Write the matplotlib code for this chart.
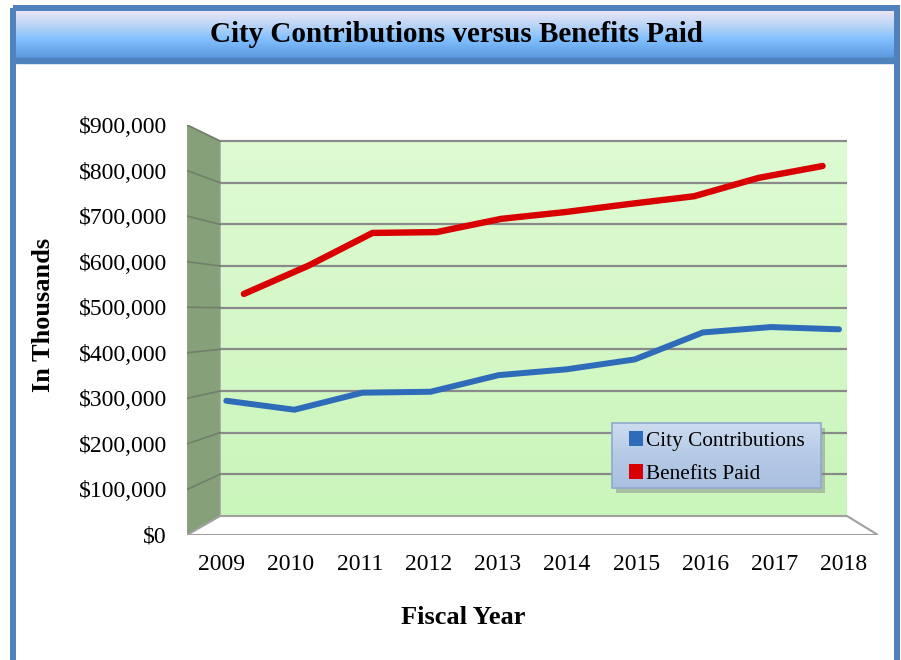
import matplotlib
matplotlib.use("Agg")
import matplotlib.pyplot as plt
import numpy as np
from matplotlib.colors import LinearSegmentedColormap
from matplotlib.patches import Patch, Polygon, Rectangle
from matplotlib.ticker import FuncFormatter
from matplotlib.transforms import Affine2D, IdentityTransform

# datos (dólares)
years = ["2009", "2010", "2011", "2012", "2013", "2014", "2015", "2016", "2017", "2018"]
city_contributions = [292000, 272000, 310000, 312000, 349000, 362000, 384000, 444000, 456000, 451000]
benefits_paid = [532000, 598000, 675000, 677000, 708000, 724000, 743000, 761000, 804000, 832000]
y_ticks = [0, 100000, 200000, 300000, 400000, 500000, 600000, 700000, 800000, 900000]

W, H = 901, 660
# desplazamiento (px) del plano trasero respecto al frontal: izq, der, abajo, arriba
BACK_INSET = (33, -31, 19, -16)
BLUE = "#2e6bb8"
RED = "#d80000"
GRID = "#8a8a8a"

plt.rcParams["font.family"] = ["Liberation Serif", "DejaVu Serif"]

fig = plt.figure(figsize=(W / 100, H / 100), dpi=100)

# fondo: marco azul y banda del título
bg = fig.add_axes([0, 0, 1, 1], zorder=0)
bg.axis("off")

band = LinearSegmentedColormap.from_list(
    "band", [(0.0, "#eee6f5"), (0.35, "#b4d2f7"), (0.62, "#80bfff"), (1.0, "#5b97dc")]
)
bg.imshow(np.linspace(0, 1, 100).reshape(-1, 1), cmap=band, aspect="auto",
          extent=(16, 895, 58, 10), origin="upper")
bg.add_patch(Rectangle((16, 58), 879, 5, color="#4f81bd"))
bg.add_patch(Rectangle((13, 7.5), 884, 700, fill=False, lw=4.3, ec="#4f81bd"))
bg.set_xlim(0, W)
bg.set_ylim(H, 0)
bg.text(456, 35, "City Contributions versus Benefits Paid", fontsize=21,
        fontweight="bold", ha="center", va="center")
bg.text(43.5, 314.5, "In Thousands", fontsize=19, fontweight="bold",
        rotation=90, ha="center", va="center")
bg.text(463, 618, "Fiscal Year", fontsize=19, fontweight="bold",
        ha="center", va="center")

# plano frontal del gráfico 3D
ax = fig.add_axes([187 / W, 1 - 535 / H, (878 - 187) / W, (535 - 125) / H], zorder=1)
ax.patch.set_visible(False)
x = np.arange(len(years))
ax.set_xlim(-0.5, len(years) - 0.5)
ax.set_ylim(0, 900000)
for s in ax.spines.values():
    s.set_visible(False)


def plano(f):
    """Transforma datos al plano de profundidad f (0 = frente, 1 = fondo)."""
    bb = ax.bbox
    x0, x1 = bb.x0 + f * BACK_INSET[0], bb.x1 + f * BACK_INSET[1]
    y0, y1 = bb.y0 + f * BACK_INSET[2], bb.y1 + f * BACK_INSET[3]
    aff = (Affine2D().translate(-bb.x0, -bb.y0)
           .scale((x1 - x0) / bb.width, (y1 - y0) / bb.height)
           .translate(x0, y0))
    return ax.transData + aff


def a_pantalla(f, pts):
    return plano(f).transform(np.asarray(pts, dtype=float))


xl, xr = -0.5, len(years) - 0.5
ymax = y_ticks[-1]

# pared trasera con degradado verde
wall = LinearSegmentedColormap.from_list("wall", ["#defbd3", "#caf5bb"])
ax.imshow(np.linspace(0, 1, 100).reshape(-1, 1), cmap=wall, aspect="auto",
          extent=(xl, xr, 0, ymax), origin="upper", transform=plano(1), zorder=1)
ax.hlines(y_ticks[1:], xl, xr, colors=GRID, lw=1.6, transform=plano(1), zorder=2)

# pared lateral
front = a_pantalla(0, [(xl, 0), (xl, ymax)])
back = a_pantalla(1, [(xl, ymax), (xl, 0)])
ax.add_patch(Polygon(np.vstack([front, back]), closed=True, fc="#86a179",
                     ec="#9a9a9a", lw=1.0, transform=IdentityTransform(), zorder=2))
for v in y_ticks[1:]:
    p = np.vstack([a_pantalla(0, [(xl, v)]), a_pantalla(1, [(xl, v)])])
    ax.plot(p[:, 0], p[:, 1], color="#6f7f68", lw=1.2,
            transform=IdentityTransform(), zorder=2)

# suelo
floor = np.vstack([a_pantalla(0, [(xl, 0), (xr, 0)]), a_pantalla(1, [(xr, 0), (xl, 0)])])
ax.add_patch(Polygon(floor, closed=True, fc="white", ec="#a0a0a0", lw=1.5,
                     transform=IdentityTransform(), zorder=2))

# series
ax.plot(x, benefits_paid, color=RED, lw=4.6, solid_capstyle="round",
        solid_joinstyle="round", transform=plano(0.75), zorder=4)
ax.plot(x, city_contributions, color=BLUE, lw=4.3, solid_capstyle="round",
        solid_joinstyle="round", transform=plano(0.16), zorder=4)

ax.set_xticks(x)
ax.set_xticklabels(years)
ax.set_yticks(y_ticks)
ax.yaxis.set_major_formatter(FuncFormatter(lambda v, _: f"${v:,.0f}"))
ax.tick_params(axis="both", length=0, labelsize=17)
ax.tick_params(axis="y", pad=14.4)
ax.tick_params(axis="x", pad=14)

# capa superior para la caja de la leyenda (sombra, degradado y borde)
top = fig.add_axes([0, 0, 1, 1], zorder=2)
top.axis("off")
LEG_BOX = (612, 423, 209, 65)
lx, ly, lw_, lh = LEG_BOX
top.add_patch(Rectangle((lx + 4, ly + 5), lw_, lh, color="#7f7f7f", alpha=0.45, lw=0))
leg_grad = LinearSegmentedColormap.from_list("leg", ["#cddcf0", "#b5cae6", "#a9c0e0"])
top.imshow(np.linspace(0, 1, 50).reshape(-1, 1), cmap=leg_grad, aspect="auto",
           extent=(lx, lx + lw_, ly + lh, ly), origin="upper", zorder=3)
top.add_patch(Rectangle((lx, ly), lw_, lh, fill=False, ec="#8fa9cf", lw=1.2, zorder=3))
top.set_xlim(0, W)
top.set_ylim(H, 0)

leg = fig.legend(
    handles=[Patch(fc=BLUE, label="City Contributions"), Patch(fc=RED, label="Benefits Paid")],
    loc="upper left", bbox_to_anchor=((lx + 17) / W, 1 - (ly + 8) / H),
    fontsize=15.3, frameon=False, borderpad=0, handlelength=0.68, handleheight=0.68,
    handletextpad=0.12, labelspacing=0.62, borderaxespad=0,
)
leg.set_zorder(6)

fig.savefig("out.png", dpi=100)
